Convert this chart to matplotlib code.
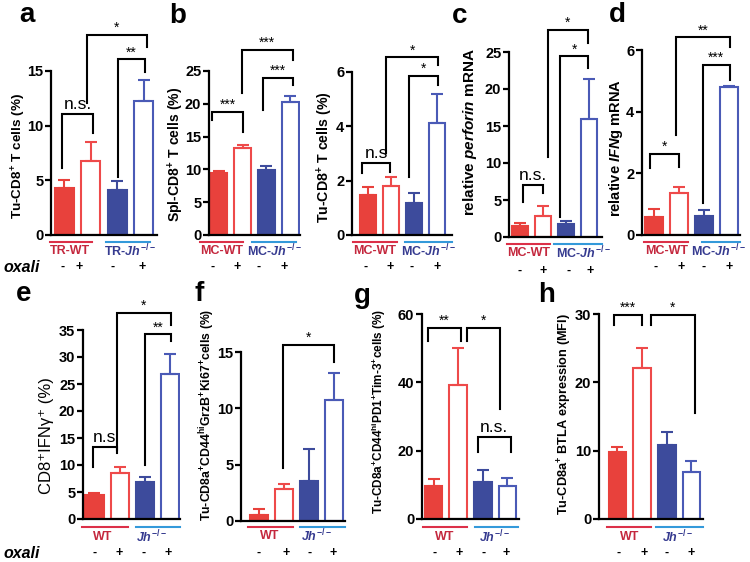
import matplotlib
matplotlib.use('Agg')
import matplotlib.pyplot as plt
import matplotlib.transforms as mtransforms

plt.rcParams['font.family'] = 'Liberation Sans'
plt.rcParams['font.weight'] = 'bold'
plt.rcParams['axes.labelweight'] = 'bold'
plt.rcParams['mathtext.fontset'] = 'custom'
plt.rcParams['mathtext.rm'] = 'Liberation Sans:bold'
plt.rcParams['mathtext.it'] = 'Liberation Sans:italic:bold'
plt.rcParams['mathtext.bf'] = 'Liberation Sans:bold'
plt.rcParams['mathtext.default'] = 'rm'

# ---- values (WT-, WT+, Jh-, Jh+) ----
a_vals = [4.3, 6.8, 4.1, 12.3]
a_errs = [0.75, 1.7, 0.8, 1.9]
b1_vals = [9.4, 13.2, 9.9, 20.3]
b1_errs = [0.4, 0.45, 0.6, 0.85]
b2_vals = [1.47, 1.8, 1.18, 4.13]
b2_errs = [0.28, 0.34, 0.37, 1.05]
c_vals = [1.5, 2.9, 1.7, 15.9]
c_errs = [0.4, 1.3, 0.4, 5.4]
d_vals = [0.59, 1.37, 0.6, 4.79]
d_errs = [0.24, 0.18, 0.21, 0.04]
e_vals = [4.4, 8.5, 6.9, 26.9]
e_errs = [0.5, 1.1, 0.9, 3.7]
f_vals = [0.56, 2.81, 3.58, 10.74]
f_errs = [0.48, 0.44, 2.84, 2.36]
g_vals = [9.8, 39.3, 10.9, 9.6]
g_errs = [1.8, 10.7, 3.5, 2.5]
h_vals = [9.8, 22.1, 10.9, 6.9]
h_errs = [0.7, 2.9, 1.9, 1.6]

oxali_signs = ['-', '+', '-', '+']
tr_groups = ['TR-WT', r'TR-$\mathit{Jh}^{-/-}$']
mc_groups = ['MC-WT', r'MC-$\mathit{Jh}^{-/-}$']
plain_groups = ['WT', r'$\mathit{Jh}^{-/-}$']

# significance brackets: x1, x2, top, left end, right end, label
a_sig = [(-0.07, 1.1, 11.07, 6.1, 9.36, 'n.s.'),
         (0.86, 3.12, 18.3, 12.05, 17.2, '*'),
         (2.03, 3.04, 16.07, 5.33, 14.94, '**')]
b1_sig = [(-0.26, 1.0, 18.8, 17.5, 15.75, '***'),
          (0.97, 3.09, 28.2, 21.6, 26.7, '***'),
          (1.87, 3.09, 24.0, 19.05, 22.9, '***')]
b2_sig = [(-0.27, 0.97, 2.64, 2.27, 2.33, 'n.s'),
          (0.8, 3.05, 6.54, 3.0, 6.26, '*'),
          (1.8, 3.05, 5.85, 2.15, 5.52, '*')]
c_sig = [(0.12, 1.02, 7.0, 4.77, 6.0, 'n.s.'),
         (1.2, 2.97, 28.0, 10.85, 26.2, '*'),
         (1.74, 2.97, 24.4, 2.7, 22.8, '*')]
d_sig = [(-0.16, 1.01, 2.63, 2.16, 2.22, '*'),
         (0.88, 3.04, 6.41, 3.24, 6.11, '**'),
         (1.95, 3.04, 5.51, 1.03, 5.03, '***')]
e_sig = [(-0.07, 0.88, 13.4, 9.7, 12.3, 'n.s'),
         (0.9, 3.01, 38.1, 12.8, 35.9, '*'),
         (2.0, 3.01, 34.2, 10.0, 32.9, '**')]
f_sig = [(0.97, 3.02, 15.6, 4.73, 14.1, '*')]
g_sig = [(-0.21, 1.1, 55.9, 52.0, 52.0, '**'),
         (1.34, 2.7, 55.9, 52.0, 32.2, '*'),
         (1.81, 3.13, 24.1, 19.7, 19.7, 'n.s.')]
h_sig = [(-0.14, 1.01, 29.9, 28.4, 28.4, '***'),
         (1.34, 3.14, 29.9, 28.4, 15.5, '*')]

RED = '#E8413C'
RED_E = '#EE4A4A'
BLUE = '#3D4B9C'
BLUE_E = '#4A5AB6'
RED_LINE = '#DC3048'
BLUE_LINE = '#3399DA'
RED_TXT = '#C4283E'
BLUE_TXT = '#363B90'

W, H = 750, 562
fig = plt.figure(figsize=(7.5, 5.62), dpi=100)

panels = [
    dict(rect=(51, 157, 235, 71), ymax=15, step=5, xlim=(-0.5, 3.5),
         vals=a_vals, errs=a_errs, ylabel=r'Tu-CD8$^{+}$ T cells (%)', lab=(19, 156, 9.7),
         sig=a_sig, groups=tr_groups, spans=[(-0.55, 1.03), (1.59, 3.23)], gx=[0.23, 2.47],
         sx=[-0.08, 0.58, 1.84, 2.95], rows=(242, 251, 267), oxali=True),
    dict(rect=(209, 300, 235, 71), ymax=25, step=5, xlim=(-0.4, 3.4),
         vals=b1_vals, errs=b1_errs, ylabel=r'Spl-CD8$^{+}$ T cells (%)', lab=(176, 154, 10.1),
         sig=b1_sig, groups=mc_groups, spans=[(-0.77, 1.03), (1.38, 3.23)], gx=[0.13, 2.35],
         sx=[-0.26, 0.78, 1.69, 2.74], rows=(242, 251, 267), oxali=False),
    dict(rect=(352, 452, 235, 72), ymax=6, step=2, xlim=(-0.7, 3.65),
         vals=b2_vals, errs=b2_errs, ylabel=r'Tu-CD8$^{+}$ T cells (%)', lab=(325, 157, 10.2),
         sig=b2_sig, groups=mc_groups, spans=[(-0.67, 1.25), (1.6, 3.64)], gx=[0.3, 2.62],
         sx=[-0.13, 0.96, 1.9, 2.99], rows=(242, 251, 267), oxali=False),
    dict(rect=(509, 602, 237, 52), ymax=25, step=5, xlim=(-0.48, 3.57),
         vals=c_vals, errs=c_errs, ylabel=r'relative $\mathit{perforin}$ mRNA', lab=(470, 132, 11),
         sig=c_sig, groups=mc_groups, spans=[(-0.58, 1.3), (1.49, 3.55)], gx=[0.36, 2.75],
         sx=[-0.03, 0.99, 2.1, 3.04], rows=(244, 253, 271), oxali=False),
    dict(rect=(642, 740, 235, 50), ymax=6, step=2, xlim=(-0.48, 3.44),
         vals=d_vals, errs=d_errs, ylabel=r'relative $\mathit{IFN}$g mRNA', lab=(616, 148, 10.5),
         sig=d_sig, groups=mc_groups, spans=[(-0.39, 1.37), (1.91, 3.44)], gx=[0.51, 2.57],
         sx=[0.08, 1.07, 2.0, 3.0], rows=(242, 251, 267), oxali=False),
    dict(rect=(83, 180, 519, 330), ymax=35, step=5, xlim=(-0.45, 3.38),
         vals=e_vals, errs=e_errs, ylabel='CD8⁺IFNγ⁺ (%)', lab=(47, 436, 12),
         sig=e_sig, groups=plain_groups, spans=[(-0.47, 1.34), (1.64, 3.38)], gx=[0.32, 2.26],
         sx=[0.02, 0.97, 1.93, 2.92], rows=(527, 537, 553), oxali=True),
    dict(rect=(241, 345, 521, 352), ymax=15, step=5, xlim=(-0.7, 3.46),
         vals=f_vals, errs=f_errs,
         ylabel=r'Tu-CD8a$^{+}$CD44$^{hi}$GrzB$^{+}$Ki67$^{+}$cells (%)', lab=(207, 415, 8.8),
         sig=f_sig, groups=plain_groups, spans=[(-0.41, 1.39), (1.66, 3.46)], gx=[0.46, 2.33],
         sx=[0.0, 1.1, 2.06, 3.0], rows=(527, 536, 553), oxali=False),
    dict(rect=(422, 519, 519, 314), ymax=60, step=20, xlim=(-0.47, 3.47),
         vals=g_vals, errs=g_errs,
         ylabel=r'Tu-CD8a$^{+}$CD44$^{hi}$PD1$^{+}$Tim-3$^{+}$cells (%)', lab=(379, 411, 8.5),
         sig=g_sig, groups=plain_groups, spans=[(-0.44, 1.34), (1.68, 3.43)], gx=[0.47, 2.49],
         sx=[0.06, 1.05, 2.02, 2.96], rows=(527, 537, 553), oxali=False),
    dict(rect=(599, 703, 519, 314), ymax=30, step=10, xlim=(-0.75, 3.47),
         vals=h_vals, errs=h_errs, ylabel=r'Tu-CD8a$^{+}$ BTLA expression (MFI)', lab=(565, 414, 9.2),
         sig=h_sig, groups=plain_groups, spans=[(-0.41, 1.34), (1.56, 3.47)], gx=[0.51, 2.46],
         sx=[0.03, 1.09, 1.99, 3.0], rows=(527, 537, 553), oxali=False),
]

faces = [RED, 'white', BLUE, 'white']
edges = [RED, RED_E, BLUE, BLUE_E]

for p in panels:
    l, r, y0, yt = p['rect']
    ax = fig.add_axes([l / W, 1 - y0 / H, (r - l) / W, (y0 - yt) / H])
    x = [0, 1, 2, 3]
    ax.bar(x, p['vals'], width=0.72, color=faces, edgecolor=edges, linewidth=1.5, zorder=2)
    for i in x:
        ax.errorbar(x[i], p['vals'][i], yerr=[[0], [p['errs'][i]]], fmt='none',
                    ecolor=edges[i], elinewidth=1.5, capsize=4, capthick=1.5, zorder=3)
    ax.set_xlim(*p['xlim'])
    ax.set_ylim(0, p['ymax'])
    ax.set_yticks(range(0, p['ymax'] + 1, p['step']))
    ax.set_xticks([])
    for s in ['top', 'right']:
        ax.spines[s].set_visible(False)
    for s in ['left', 'bottom']:
        ax.spines[s].set_linewidth(1.6)
    ax.tick_params(axis='y', length=4, width=1.6, labelsize=10.5, pad=1.5)
    for t in ax.get_yticklabels():
        t.set_fontweight('bold')

    lx, ly, lsize = p['lab']
    if p['ylabel'].startswith('CD8⁺'):
        fig.text(lx / W, 1 - ly / H, p['ylabel'], rotation=90, ha='center', va='center',
                 fontsize=lsize, fontweight='normal', family=['Liberation Sans', 'DejaVu Sans'])
    else:
        fig.text(lx / W, 1 - ly / H, p['ylabel'], rotation=90, ha='center', va='center',
                 fontsize=lsize, fontweight='bold')

    for x1, x2, top, e1, e2, lab in p['sig']:
        ax.plot([x1, x1, x2, x2], [e1, top, top, e2], color='black', lw=1.5,
                clip_on=False, zorder=4, solid_joinstyle='miter')
        if lab.startswith('n'):
            ax.annotate(lab, ((x1 + x2) / 2, top), xytext=(0, 1.5), textcoords='offset points',
                        ha='center', va='bottom', fontsize=12.5, fontweight='normal',
                        annotation_clip=False)
        else:
            ax.annotate(lab, ((x1 + x2) / 2, top), xytext=(0, 0), textcoords='offset points',
                        ha='center', va='bottom', fontsize=10, fontweight='normal',
                        annotation_clip=False)

    tr = mtransforms.blended_transform_factory(ax.transData, fig.transFigure)
    yl, ytx, ys = [1 - v / H for v in p['rows']]
    for (s0, s1), col in zip(p['spans'], [RED_LINE, BLUE_LINE]):
        ax.plot([s0, s1], [yl, yl], color=col, lw=1.5, transform=tr, clip_on=False)
    for gx, g, col in zip(p['gx'], p['groups'], [RED_TXT, BLUE_TXT]):
        ax.text(gx, ytx, g, transform=tr, ha='center', va='center', fontsize=9, color=col)
    for sx, s in zip(p['sx'], oxali_signs):
        ax.text(sx, ys, s, transform=tr, ha='center', va='center', fontsize=9)
    if p['oxali']:
        fig.text(22 / W, ys, 'oxali', ha='center', va='center', fontsize=11.5,
                 fontweight='bold', style='italic')

letters = [('a', 27, 15), ('b', 178, 16), ('c', 460, 16), ('d', 617, 15),
           ('e', 24, 294), ('f', 199, 294), ('g', 362, 296), ('h', 547, 295)]
for s, lx, ly in letters:
    fig.text(lx / W, 1 - ly / H, s, ha='center', va='center', fontsize=20, fontweight='bold')

fig.savefig('out.png', dpi=100)
